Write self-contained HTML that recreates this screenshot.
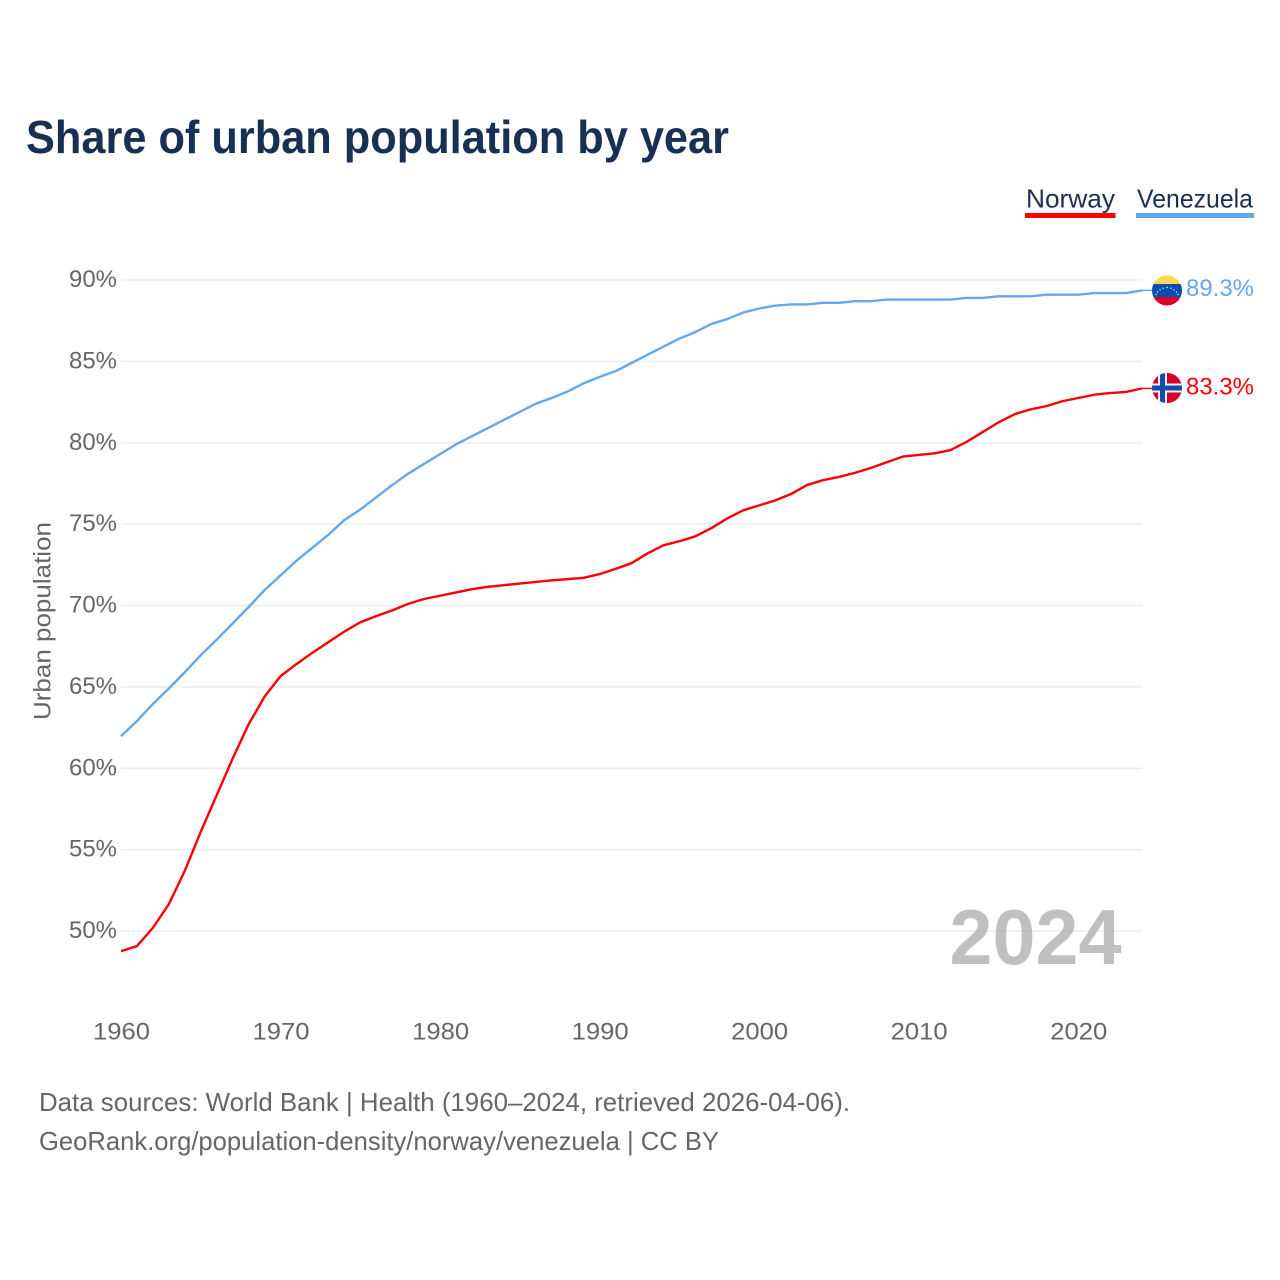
<!DOCTYPE html>
<html lang="en">
<head>
<meta charset="utf-8">
<title>Share of urban population by year</title>
<style>
html,body{margin:0;padding:0;background:#fff;}
svg{display:block;font-family:"Liberation Sans",sans-serif;}
</style>
</head>
<body>
<svg id="chart" xmlns="http://www.w3.org/2000/svg" width="1280" height="1280" viewBox="0 0 1280 1280">
  <defs>
    <clipPath id="clip-ve"><circle cx="1167" cy="290.5" r="15"/></clipPath>
    <clipPath id="clip-no"><circle cx="1167" cy="388" r="15"/></clipPath>
  </defs>
  <rect x="0" y="0" width="1280" height="1280" fill="#fff"/>
  <text x="26" y="153" font-size="46" font-weight="700" fill="#183153" textLength="703" lengthAdjust="spacingAndGlyphs">Share of urban population by year</text>

  <g>
    <g>
      <text x="1026" y="207.5" font-size="26" fill="#183153" textLength="89" lengthAdjust="spacingAndGlyphs">Norway</text>
      <rect x="1025" y="213" width="90.5" height="5" fill="#ff0000"/>
    </g>
    <g>
      <text x="1137" y="207.5" font-size="26" fill="#183153" textLength="116" lengthAdjust="spacingAndGlyphs">Venezuela</text>
      <rect x="1136" y="213" width="118" height="5" fill="#63a8ec"/>
    </g>
  </g>

  <g id="grid"></g>
  <g id="y-ticks"></g>
  <g id="x-ticks"></g>
  <text transform="translate(50.5 621) rotate(-90)" text-anchor="middle" font-size="24" fill="#666" textLength="198" lengthAdjust="spacingAndGlyphs">Urban population</text>

  <g id="series"></g>

  <text x="1121.5" y="964" text-anchor="end" font-size="78" font-weight="700" fill="#999" fill-opacity="0.62" textLength="172" lengthAdjust="spacingAndGlyphs">2024</text>

  <g clip-path="url(#clip-ve)">
    <rect x="1150" y="274" width="34" height="10" fill="#ffd84e"/>
    <rect x="1150" y="284" width="34" height="13" fill="#0a4fb0"/>
    <rect x="1150" y="297" width="34" height="11" fill="#d80027"/>
    <g fill="#e8eef8">
      <circle cx="1156" cy="294.5" r="0.7"/><circle cx="1157.5" cy="292" r="0.7"/><circle cx="1160" cy="289.8" r="0.7"/><circle cx="1163" cy="288.2" r="0.7"/><circle cx="1167" cy="287.6" r="0.7"/><circle cx="1171" cy="288.2" r="0.7"/><circle cx="1174" cy="289.8" r="0.7"/><circle cx="1176.5" cy="292" r="0.7"/><circle cx="1178" cy="294.5" r="0.7"/>
    </g>
  </g>
  <g clip-path="url(#clip-no)">
    <rect x="1150" y="371" width="34" height="34" fill="#d80027"/>
    <rect x="1158" y="371" width="9" height="34" fill="#f0f0f0"/>
    <rect x="1150" y="383.5" width="34" height="9" fill="#f0f0f0"/>
    <rect x="1160" y="371" width="5" height="34" fill="#0a4fb0"/>
    <rect x="1150" y="385.5" width="34" height="5" fill="#0a4fb0"/>
  </g>

  <text x="1186" y="296" font-size="24" fill="#63a8ec" textLength="68" lengthAdjust="spacingAndGlyphs">89.3%</text>
  <text x="1186" y="394.5" font-size="24" fill="#ff0000" textLength="68" lengthAdjust="spacingAndGlyphs">83.3%</text>

  <text x="39" y="1111" font-size="26" fill="#666" textLength="811" lengthAdjust="spacingAndGlyphs">Data sources: World Bank | Health (1960–2024, retrieved 2026-04-06).</text>
  <text x="39" y="1150" font-size="26" fill="#666" textLength="680" lengthAdjust="spacingAndGlyphs">GeoRank.org/population-density/norway/venezuela | CC BY</text>
</svg>
<script>
const startYear = 1960;
const yTickValues = [50, 55, 60, 65, 70, 75, 80, 85, 90];
const xTickYears = [1960, 1970, 1980, 1990, 2000, 2010, 2020];
const norwayValues = [48.76, 49.07, 50.2, 51.65, 53.7, 56.1, 58.35, 60.6, 62.7, 64.4,
  65.66, 66.4, 67.1, 67.75, 68.4, 68.97, 69.35, 69.7, 70.1, 70.4,
  70.6, 70.8, 71.0, 71.15, 71.25, 71.35, 71.45, 71.55, 71.62, 71.7,
  71.93, 72.25, 72.6, 73.2, 73.7, 73.95, 74.25, 74.75, 75.35, 75.85,
  76.15, 76.45, 76.85, 77.4, 77.7, 77.9, 78.15, 78.45, 78.8, 79.15,
  79.25, 79.35, 79.55, 80.05, 80.65, 81.25, 81.75, 82.05, 82.25, 82.55,
  82.75, 82.95, 83.05, 83.12, 83.34];
const venezuelaValues = [61.97, 62.9, 63.95, 64.9, 65.9, 66.95, 67.9, 68.9, 69.9, 70.95,
  71.85, 72.75, 73.55, 74.35, 75.25, 75.9, 76.65, 77.4, 78.1, 78.7,
  79.3, 79.9, 80.4, 80.9, 81.4, 81.9, 82.4, 82.75, 83.15, 83.65,
  84.05, 84.4, 84.9, 85.4, 85.9, 86.4, 86.8, 87.3, 87.6, 88.0,
  88.25, 88.42, 88.5, 88.5, 88.6, 88.6, 88.7, 88.7, 88.8, 88.8,
  88.8, 88.8, 88.8, 88.9, 88.9, 89.0, 89.0, 89.0, 89.1, 89.1,
  89.1, 89.2, 89.2, 89.2, 89.36];

const NS = 'http://www.w3.org/2000/svg';
function xScale(year) { return 121 + (year - 1960) * (1142 - 121) / 64; }
function yScale(value) { return 931 - (value - 50) * (931 - 280) / 40; }
function make(tag, attrs, text) {
  const el = document.createElementNS(NS, tag);
  Object.keys(attrs).forEach(function (k) { el.setAttribute(k, attrs[k]); });
  if (text !== undefined) el.textContent = text;
  return el;
}

const gridGroup = document.getElementById('grid');
const yGroup = document.getElementById('y-ticks');
yTickValues.forEach(function (v) {
  const line = make('line', { x1: 121, x2: 1142, y1: yScale(v), y2: yScale(v), stroke: '#eeeeee', 'stroke-width': 1.6 });
  
  
  gridGroup.appendChild(line);
  const label = make('text', { x: 117, y: yScale(v) + 7, 'text-anchor': 'end', 'font-size': 24, fill: '#666', textLength: 48, lengthAdjust: 'spacingAndGlyphs' }, v + '%');
  
  
  yGroup.appendChild(label);
});

const xGroup = document.getElementById('x-ticks');
xTickYears.forEach(function (year) {
  const label = make('text', { x: xScale(year) + 0.5, y: 1039.5, 'text-anchor': 'middle', 'font-size': 24, fill: '#666', textLength: 57, lengthAdjust: 'spacingAndGlyphs' }, String(year));
  
  
  xGroup.appendChild(label);
});

function linePoints(values) {
  return values.map(function (v, i) {
    return xScale(startYear + i).toFixed(2) + ',' + yScale(v).toFixed(2);
  }).join(' ');
}
function stubPoints(values) {
  const last = values.length - 1;
  const y = yScale(values[last]).toFixed(2);
  return xScale(startYear + last).toFixed(2) + ',' + y + ' 1153,' + y;
}
const seriesGroup = document.getElementById('series');
const venezuelaLine = make('polyline', { points: linePoints(venezuelaValues), fill: 'none', stroke: '#63a8ec', 'stroke-width': 2.4, 'stroke-linejoin': 'round' });


seriesGroup.appendChild(venezuelaLine);
const venezuelaStub = make('polyline', { points: stubPoints(venezuelaValues), fill: 'none', stroke: '#63a8ec', 'stroke-width': 1.4 });


seriesGroup.appendChild(venezuelaStub);
const norwayLine = make('polyline', { points: linePoints(norwayValues), fill: 'none', stroke: '#ff0000', 'stroke-width': 2.4, 'stroke-linejoin': 'round' });


seriesGroup.appendChild(norwayLine);
const norwayStub = make('polyline', { points: stubPoints(norwayValues), fill: 'none', stroke: '#ff0000', 'stroke-width': 1.4 });


seriesGroup.appendChild(norwayStub);
</script>
</body>
</html>
